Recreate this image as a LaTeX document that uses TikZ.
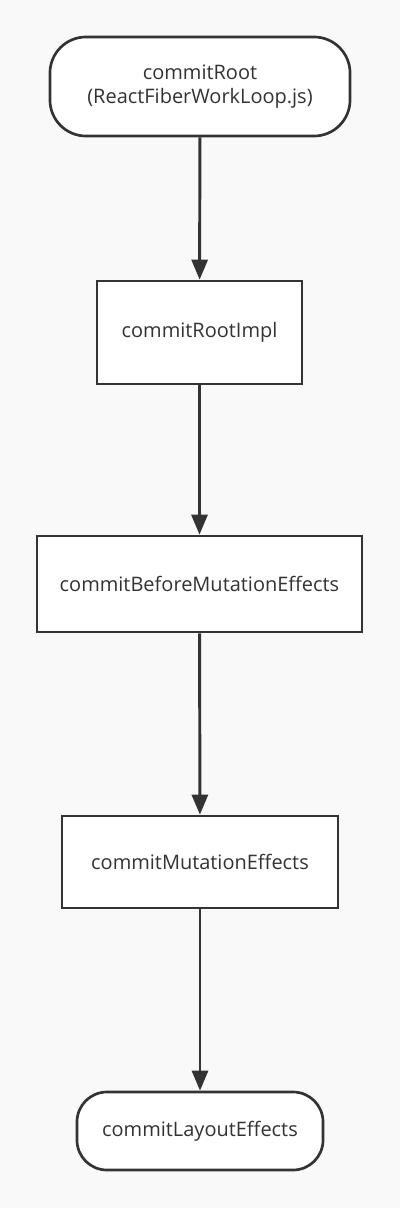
\documentclass[tikz,border=0pt]{standalone}
\usepackage{fontspec}
\setmainfont{Open Sans}
\usetikzlibrary{arrows.meta}
\definecolor{ink}{HTML}{333333}
\definecolor{paper}{HTML}{F9F9F9}
\begin{document}
\begin{tikzpicture}[x=0.025cm, y=-0.025cm, thick,
    every node/.style={font=\fontsize{14.2}{16.6}\selectfont, text=ink, align=center},
    box/.style={draw=ink, fill=white, line width=1.9pt, inner sep=0pt},
    term/.style={box, rounded corners=0.9cm},
    flow/.style={draw=ink, line width=2.1pt, -{Triangle[length=0.5cm, width=0.4cm]}}]

    % canvas
    \fill[paper] (0, 0) rectangle (400, 1208);
    \useasboundingbox (0, 0) rectangle (400, 1208);

    % Node definitions
    \node (root) at (200, 86.5) [term, minimum width=7.5cm, minimum height=2.475cm] {commitRoot\\(ReactFiberWorkLoop.js)};
    \node (impl) at (199.5, 332.5) [box, minimum width=5.125cm, minimum height=2.575cm] {commitRootImpl};
    \node (before) at (199.5, 584) [box, minimum width=8.125cm, minimum height=2.4cm] {commitBeforeMutationEffects};
    \node (mutation) at (200, 862) [box, minimum width=6.9cm, minimum height=2.3cm] {commitMutationEffects};
    \node (layout) at (200, 1131) [term, rounded corners=0.75cm, minimum width=6.15cm, minimum height=1.95cm] {commitLayoutEffects};

    % Edge definitions
    \draw[flow] (root) -- (impl);
    \draw[flow] (impl) -- (before);
    \draw[flow] (before) -- (mutation);
    \draw[flow] (mutation) -- (layout);
\end{tikzpicture}
\end{document}
